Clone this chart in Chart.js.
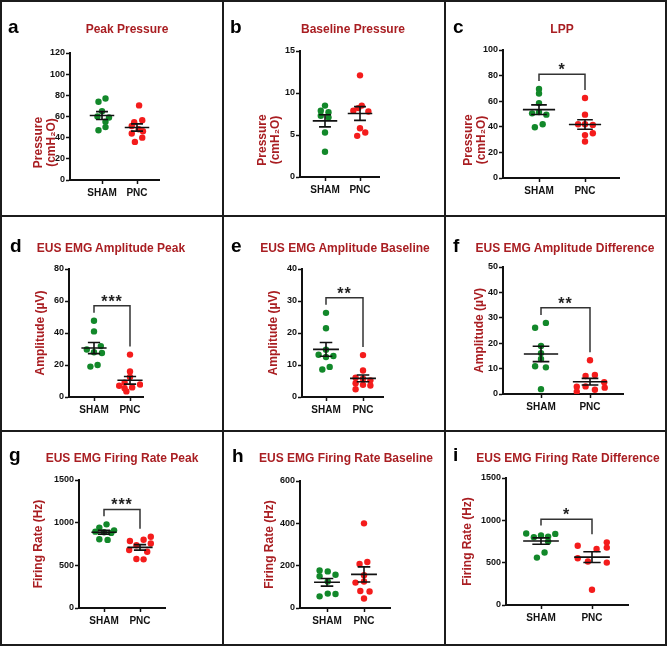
<!DOCTYPE html>
<html>
<head>
<meta charset="utf-8">
<script src="https://cdn.jsdelivr.net/npm/chart.js@4.4.1/dist/chart.umd.min.js"></script>
<style>
  body { margin: 0; background: #fff; }
  #grid {
    position: absolute; left: 0; top: 0;
    display: grid;
    grid-template-columns: 220px 220px 219px;
    grid-template-rows: 213px 213px 212px;
    gap: 2px; padding: 2px;
    background: #1c1c1c;
  }
  .cell { position: relative; background: #fff; overflow: hidden; }
  .cell canvas { position: absolute; left: 0; top: 0; }
  .letter { position: absolute; font: bold 19px Arial, 'Liberation Sans', sans-serif; line-height: 19px; color: #000; }
  .title { position: absolute; font: bold 12px Arial, 'Liberation Sans', sans-serif; line-height: 12px; color: #a91e22; white-space: nowrap; transform: translateX(-50%); }
</style>
</head>
<body>
<div id="grid"></div>
<script>
// groups and labels
const groups = ['SHAM', 'PNC'];
const panelLetters = ['a', 'b', 'c', 'd', 'e', 'f', 'g', 'h', 'i'];
const panelTitles = ['Peak Pressure', 'Baseline Pressure', 'LPP',
  'EUS EMG Amplitude Peak', 'EUS EMG Amplitude Baseline', 'EUS EMG Amplitude Difference',
  'EUS EMG Firing Rate Peak', 'EUS EMG Firing Rate Baseline', 'EUS EMG Firing Rate Difference'];
const yTitles = [['Pressure', '(cmH₂O)'], ['Pressure', '(cmH₂O)'], ['Pressure', '(cmH₂O)'],
  'Amplitude (µV)', 'Amplitude (µV)', 'Amplitude (µV)',
  'Firing Rate (Hz)', 'Firing Rate (Hz)', 'Firing Rate (Hz)'];
const yMax = [120, 15, 100, 80, 40, 50, 1500, 600, 1500];
const yStep = [20, 5, 20, 20, 10, 10, 500, 200, 500];
const stars = ['', '', '*', '***', '**', '**', '***', '', '*'];
const bracketLevel = [null, null, 81, 57, 31, 34, 1155, null, 1014];

// values per animal, with the horizontal scatter offset of each dot
const peakPressureSham = [77, 74, 65, 60, 59, 55, 50, 47];
const peakPressureShamDx = [0.1, -0.1, 0, -0.13, 0.2, 0.1, 0.1, -0.1];
const peakPressurePnc = [70.5, 56.5, 54.5, 51, 48, 46, 44, 40, 36];
const peakPressurePncDx = [0.06, 0.15, -0.08, -0.15, 0.05, 0.17, -0.15, 0.15, -0.06];

const basePressureSham = [8.5, 7.9, 7.7, 7.3, 7.1, 5.3, 3.0];
const basePressureShamDx = [0, -0.12, 0.1, -0.12, 0.1, 0, 0];
const basePressurePnc = [12.1, 8.5, 8.2, 7.9, 7.8, 5.8, 5.3, 4.9];
const basePressurePncDx = [0, 0.05, -0.05, -0.19, 0.24, 0, 0.15, -0.08];

const lppSham = [69.5, 66, 58.5, 51.5, 50.5, 49.5, 42, 39.7];
const lppShamDx = [0, 0, 0, 0, -0.15, 0.16, 0.08, -0.09];
const lppPnc = [62.5, 49.5, 42, 42, 41.5, 35, 33.5, 28.5];
const lppPncDx = [0, 0, -0.15, 0, 0.17, 0.17, 0, 0];

const ampPeakSham = [47.7, 41, 31.8, 29.7, 28, 27.5, 20, 19];
const ampPeakShamDx = [0, 0, 0.19, -0.2, 0, 0.22, 0.1, -0.1];
const ampPeakPnc = [26.5, 16, 12.5, 9, 7.8, 7, 6, 5.5, 3.5];
const ampPeakPncDx = [0, 0, 0, -0.15, 0.28, -0.3, 0.06, -0.15, -0.1];

const ampBaseSham = [26.3, 21.5, 14.8, 13.2, 12.8, 12.5, 9.4, 8.6];
const ampBaseShamDx = [0, 0, 0, -0.2, 0.2, 0, 0.1, -0.1];
const ampBasePnc = [13.1, 8.3, 6, 5.7, 5.2, 4.3, 3.8, 3.6, 2.4];
const ampBasePncDx = [0, 0, -0.2, 0, 0.2, -0.2, 0, 0.2, -0.2];

const ampDiffSham = [28, 26.1, 18.9, 16.1, 13.8, 10.9, 10.5, 1.9];
const ampDiffShamDx = [0.1, -0.12, 0, 0, 0, -0.12, 0.1, 0];
const ampDiffPnc = [13.3, 7.5, 7.1, 4.6, 3.0, 2.9, 2.5, 1.7, 0.9];
const ampDiffPncDx = [0, 0.1, -0.09, 0.29, -0.09, -0.27, 0.3, 0.1, -0.27];

const ratePeakSham = [980, 942, 910, 895, 888, 880, 805, 798];
const ratePeakShamDx = [0.07, -0.13, 0.28, -0.24, 0, 0.2, -0.13, 0.1];
const ratePeakPnc = [835, 800, 785, 755, 735, 680, 660, 575, 570];
const ratePeakPncDx = [0.3, 0.1, -0.28, 0.3, -0.1, -0.3, 0.2, -0.1, 0.1];

const rateBaseSham = [177, 173, 157, 150, 125, 68, 66, 55];
const rateBaseShamDx = [-0.2, 0.02, 0.23, -0.2, 0.02, 0.02, 0.23, -0.2];
const rateBasePnc = [400, 217, 208, 155, 125, 120, 80, 78, 45];
const rateBasePncDx = [0, 0.09, -0.12, 0, 0, -0.23, -0.1, 0.15, 0];

const rateDiffSham = [845, 840, 820, 808, 800, 750, 620, 560];
const rateDiffShamDx = [-0.29, 0.28, 0, 0.14, -0.14, 0.14, 0.07, -0.08];
const rateDiffPnc = [740, 700, 678, 662, 552, 513, 501, 180];
const rateDiffPncDx = [0.29, -0.28, 0.29, 0.09, -0.28, -0.08, 0.29, 0];

const shamValues = [peakPressureSham, basePressureSham, lppSham, ampPeakSham, ampBaseSham, ampDiffSham, ratePeakSham, rateBaseSham, rateDiffSham];
const shamDx = [peakPressureShamDx, basePressureShamDx, lppShamDx, ampPeakShamDx, ampBaseShamDx, ampDiffShamDx, ratePeakShamDx, rateBaseShamDx, rateDiffShamDx];
const pncValues = [peakPressurePnc, basePressurePnc, lppPnc, ampPeakPnc, ampBasePnc, ampDiffPnc, ratePeakPnc, rateBasePnc, rateDiffPnc];
const pncDx = [peakPressurePncDx, basePressurePncDx, lppPncDx, ampPeakPncDx, ampBasePncDx, ampDiffPncDx, ratePeakPncDx, rateBasePncDx, rateDiffPncDx];

// cell layout: plot box (L,T,R,B), group tick pixels, axis title, panel title and letter placement
const layouts = [
  {L: 68, T: 51, R: 157, B: 178, sx: 100, px: 135, yx: 37, dy: 26, tx: 125, tb: 31, lx: 6, lb: 31},
  {L: 76, T: 49, R: 155, B: 175, sx: 101, px: 136, yx: 39, dy: 26, tx: 129, tb: 31, lx: 6, lb: 31},
  {L: 57, T: 48, R: 173, B: 176, sx: 93, px: 139, yx: 23, dy: 26, tx: 116, tb: 31, lx: 7, lb: 31},
  {L: 67, T: 52, R: 141, B: 180, sx: 92, px: 128, yx: 39, dy: 0, tx: 109, tb: 35, lx: 8, lb: 35},
  {L: 78, T: 52, R: 159, B: 180, sx: 102, px: 139, yx: 50, dy: 0, tx: 121, tb: 35, lx: 7, lb: 35},
  {L: 57, T: 50, R: 177, B: 177, sx: 95, px: 144, yx: 34, dy: 0, tx: 119, tb: 35, lx: 7, lb: 35},
  {L: 77, T: 48, R: 163, B: 176, sx: 102, px: 138, yx: 37, dy: 0, tx: 120, tb: 30, lx: 7, lb: 29},
  {L: 76, T: 49, R: 166, B: 176, sx: 103, px: 140, yx: 46, dy: 0, tx: 122, tb: 30, lx: 8, lb: 30},
  {L: 60, T: 46, R: 182, B: 173, sx: 95, px: 146, yx: 22, dy: 0, tx: 122, tb: 30, lx: 7, lb: 29}
];
const colWidths = [220, 220, 219];
const rowHeights = [213, 213, 212];

const green = '#12882a';
const red = '#f41c1c';
const darkRed = '#a91e22';
const ink = '#111';
const fontFamily = "Arial, 'Liberation Sans', sans-serif";

// mean line with SEM whiskers for each group
const meanSem = {
  id: 'meanSem',
  afterDatasetsDraw(chart) {
    const {ctx, scales: {x, y}} = chart;
    chart.data.datasets.forEach((ds, g) => {
      const vals = ds.data.map(d => d.y);
      const n = vals.length;
      const m = vals.reduce((a, b) => a + b, 0) / n;
      const sd = Math.sqrt(vals.reduce((a, b) => a + (b - m) * (b - m), 0) / (n - 1));
      const se = sd / Math.sqrt(n);
      const c = g + 1;
      ctx.save();
      ctx.strokeStyle = ink;
      ctx.lineWidth = 1.6;
      ctx.beginPath();
      ctx.moveTo(x.getPixelForValue(c - 0.35), y.getPixelForValue(m));
      ctx.lineTo(x.getPixelForValue(c + 0.35), y.getPixelForValue(m));
      ctx.moveTo(x.getPixelForValue(c), y.getPixelForValue(m - se));
      ctx.lineTo(x.getPixelForValue(c), y.getPixelForValue(m + se));
      [m - se, m + se].forEach(v => {
        ctx.moveTo(x.getPixelForValue(c - 0.17), y.getPixelForValue(v));
        ctx.lineTo(x.getPixelForValue(c + 0.17), y.getPixelForValue(v));
      });
      ctx.stroke();
      ctx.restore();
    });
  }
};

// significance bracket between the two groups
const bracket = {
  id: 'bracket',
  afterDatasetsDraw(chart, args, opts) {
    if (!opts.label) return;
    const {ctx, scales: {x, y}} = chart;
    const top = y.getPixelForValue(opts.level);
    const x1 = x.getPixelForValue(1);
    const x2 = x.getPixelForValue(2);
    const legEnd = g => y.getPixelForValue(Math.max(...chart.data.datasets[g].data.map(d => d.y))) - 8;
    ctx.save();
    ctx.strokeStyle = '#333';
    ctx.lineWidth = 1.5;
    ctx.beginPath();
    ctx.moveTo(x1, legEnd(0));
    ctx.lineTo(x1, top);
    ctx.lineTo(x2, top);
    ctx.lineTo(x2, legEnd(1));
    ctx.stroke();
    ctx.fillStyle = '#222';
    ctx.font = 'bold 16px ' + fontFamily;
    ctx.textAlign = 'center';
    ctx.textBaseline = 'alphabetic';
    ctx.letterSpacing = '1px';
    ctx.fillText(opts.label, (x1 + x2) / 2, top + 1);
    ctx.restore();
  }
};

// rotated y-axis title, placed like the original figure
const yTitle = {
  id: 'yTitle',
  afterDraw(chart, args, opts) {
    const {ctx, chartArea} = chart;
    const lines = [].concat(opts.text);
    ctx.save();
    ctx.fillStyle = darkRed;
    ctx.font = 'bold 12px ' + fontFamily;
    ctx.textAlign = 'center';
    ctx.textBaseline = 'middle';
    ctx.translate(opts.x, (chartArea.top + chartArea.bottom) / 2 + opts.dy);
    ctx.rotate(-Math.PI / 2);
    lines.forEach((t, k) => ctx.fillText(t, 0, k * 12.5));
    ctx.restore();
  }
};

const grid = document.getElementById('grid');

panelTitles.forEach((title, i) => {
  const lay = layouts[i];
  const w = colWidths[i % 3];
  const h = rowHeights[Math.floor(i / 3)];

  const cell = document.createElement('div');
  cell.className = 'cell';
  const canvas = document.createElement('canvas');
  canvas.width = w;
  canvas.height = h;
  cell.appendChild(canvas);

  const letter = document.createElement('div');
  letter.className = 'letter';
  letter.textContent = panelLetters[i];
  letter.style.left = lay.lx + 'px';
  letter.style.top = (lay.lb - 16) + 'px';
  cell.appendChild(letter);

  const head = document.createElement('div');
  head.className = 'title';
  head.textContent = title;
  head.style.left = lay.tx + 'px';
  head.style.top = (lay.tb - 10) + 'px';
  cell.appendChild(head);

  grid.appendChild(cell);

  const unit = lay.px - lay.sx;
  const xMin = 1 - (lay.sx - lay.L) / unit;
  const xMax = 2 + (lay.R - lay.px) / unit;

  const tickFont = {family: fontFamily, size: 9, weight: 'bold'};
  const axisGrid = {drawOnChartArea: false, drawTicks: true, tickLength: 4, tickWidth: 1.5, tickColor: ink};
  const axisBorder = {display: true, color: ink, width: 2};

  new Chart(canvas, {
    type: 'scatter',
    data: {
      datasets: [
        {
          data: shamValues[i].map((v, k) => ({x: 1 + shamDx[i][k], y: v})),
          backgroundColor: green,
          pointRadius: 3.2,
          pointBorderWidth: 0
        },
        {
          data: pncValues[i].map((v, k) => ({x: 2 + pncDx[i][k], y: v})),
          backgroundColor: red,
          pointRadius: 3.2,
          pointBorderWidth: 0
        }
      ]
    },
    options: {
      responsive: false,
      animation: false,
      layout: {padding: {left: 0, top: lay.T, right: w - lay.R, bottom: 0}},
      plugins: {
        legend: {display: false},
        tooltip: {enabled: false},
        bracket: {label: stars[i], level: bracketLevel[i]},
        yTitle: {text: yTitles[i], x: lay.yx, dy: lay.dy}
      },
      scales: {
        x: {
          type: 'linear',
          min: xMin,
          max: xMax,
          afterBuildTicks: s => { s.ticks = [{value: 1}, {value: 2}]; },
          afterFit: s => { s.height = h - lay.B; },
          ticks: {
            callback: v => groups[v - 1],
            font: {family: fontFamily, size: 10, weight: 'bold'},
            color: ink,
            padding: 3,
            autoSkip: false,
            maxRotation: 0
          },
          grid: axisGrid,
          border: axisBorder
        },
        y: {
          min: 0,
          max: yMax[i],
          afterFit: s => { s.width = lay.L; },
          ticks: {
            stepSize: yStep[i],
            callback: v => String(v),
            font: tickFont,
            color: ink,
            padding: 1,
            autoSkip: false
          },
          grid: axisGrid,
          border: axisBorder
        }
      }
    },
    plugins: [meanSem, bracket, yTitle]
  });
});
</script>
</body>
</html>
